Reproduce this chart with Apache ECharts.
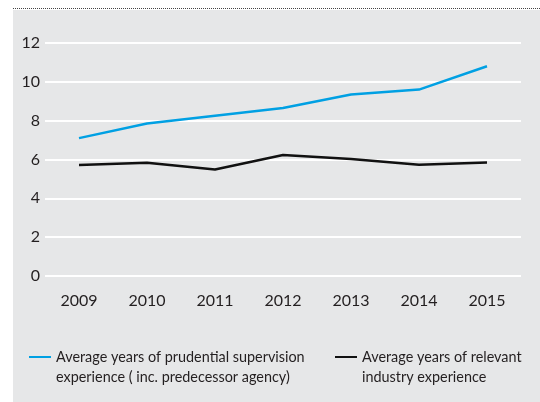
<!DOCTYPE html>
<html>
<head>
<meta charset="utf-8">
<script src="https://cdn.jsdelivr.net/npm/echarts@6/dist/echarts.min.js"></script>
<style>
  html, body { margin: 0; padding: 0; background: #fff; }
  #chart { width: 540px; height: 402px; }
</style>
</head>
<body>
<div id="chart"></div>
<script>
const years = ['2009', '2010', '2011', '2012', '2013', '2014', '2015']
const supervision = [7.1, 7.85, 8.25, 8.65, 9.35, 9.6, 10.8]
const industry = [5.72, 5.83, 5.48, 6.23, 6.02, 5.73, 5.85]
const seriesNames = [
  'Average years of prudential supervision\nexperience ( inc. predecessor agency)',
  'Average years of relevant\nindustry experience'
]

const font = 'Lato, "Open Sans", sans-serif'
const chart = echarts.init(document.getElementById('chart'), null, { renderer: 'canvas' })

const legendText = {
  color: '#231f20',
  fontFamily: font,
  fontSize: 14.4,
  lineHeight: 20
}

// 前面加一行空白，文字居中后图例线正好对齐第一行
const legendFormatter = (name) => ' \n' + name

chart.setOption({
  backgroundColor: 'transparent',
  animation: false,
  graphic: [
    {
      type: 'rect',
      z: -10,
      shape: { x: 13, y: 10, width: 527, height: 392 },
      style: { fill: '#e6e7e8' }
    },
    {
      type: 'line',
      z: -10,
      shape: { x1: 13, y1: 8.5, x2: 540, y2: 8.5 },
      style: { stroke: '#444', lineWidth: 1, lineDash: [1, 1] }
    }
  ],
  grid: { left: 45, right: 19, top: 43, bottom: 126 },
  legend: [
    {
      data: [seriesNames[0]],
      left: 24,
      top: 322,
      icon: 'rect',
      itemWidth: 22,
      itemHeight: 2,
      formatter: legendFormatter,
      textStyle: legendText
    },
    {
      data: [seriesNames[1]],
      left: 330,
      top: 322,
      icon: 'rect',
      itemWidth: 22,
      itemHeight: 2,
      formatter: legendFormatter,
      textStyle: legendText
    }
  ],
  xAxis: {
    type: 'category',
    data: years,
    axisLine: { show: false },
    axisTick: { show: false },
    axisLabel: { color: '#231f20', fontFamily: font, fontSize: 16, margin: 17 }
  },
  yAxis: {
    type: 'value',
    min: 0,
    max: 12,
    interval: 2,
    axisLine: { show: false },
    axisTick: { show: false },
    axisLabel: { color: '#231f20', fontFamily: font, fontSize: 16, margin: 5 },
    splitLine: { lineStyle: { color: '#ffffff', width: 2 } }
  },
  series: [
    {
      name: seriesNames[0],
      type: 'line',
      data: supervision,
      symbol: 'none',
      color: '#00a0e3',
      lineStyle: { width: 2.5 }
    },
    {
      name: seriesNames[1],
      type: 'line',
      data: industry,
      symbol: 'none',
      color: '#111111',
      lineStyle: { width: 2.5 }
    }
  ]
})
</script>
</body>
</html>
